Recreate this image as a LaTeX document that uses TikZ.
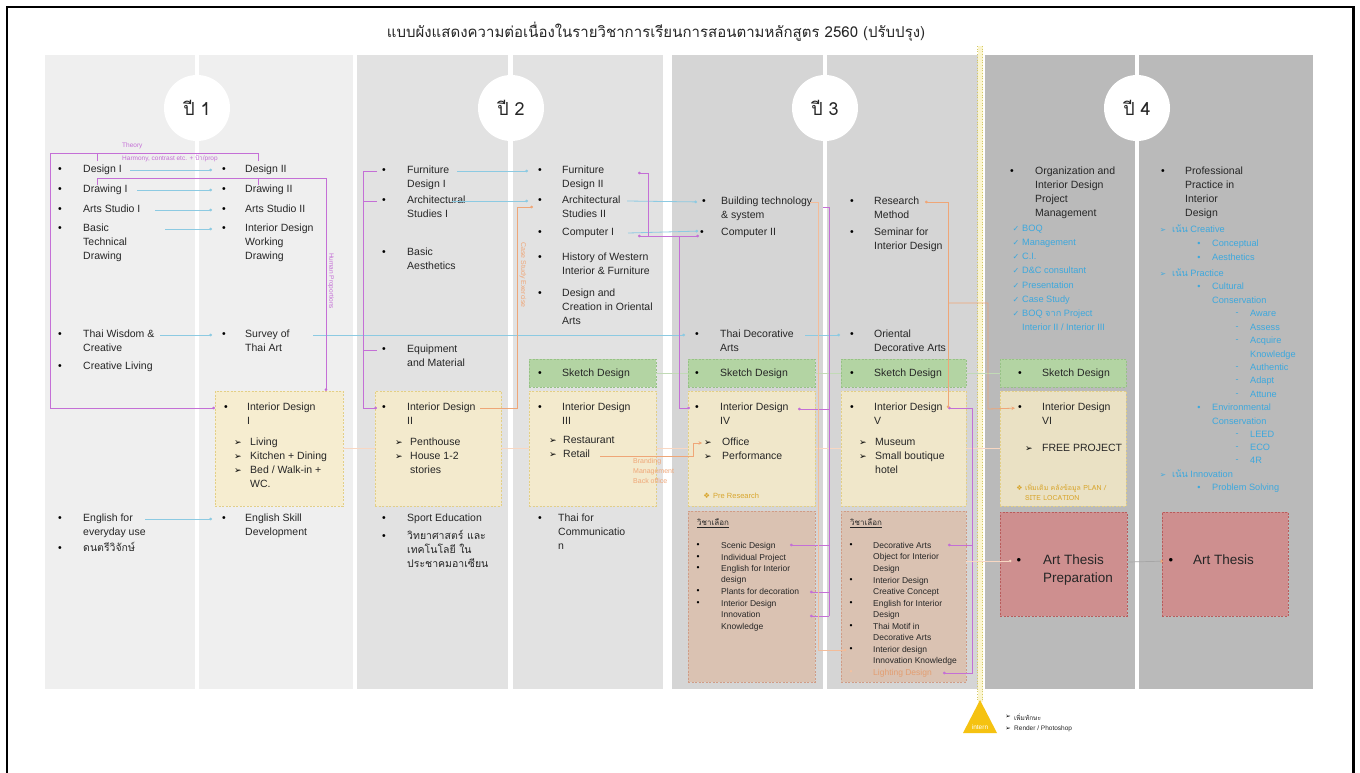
\documentclass[tikz,border=0pt]{standalone}
\usepackage{fontspec}
\setmainfont{Liberation Sans}
\newfontfamily\thaifont[Script=Thai]{Loma}
\newfontfamily\symfont{DejaVu Sans}
\usetikzlibrary{arrows.meta,calc}
\definecolor{pone}{HTML}{EFEFEF}
\definecolor{ptwo}{HTML}{E2E2E2}
\definecolor{pthree}{HTML}{D5D5D5}
\definecolor{pfour}{HTML}{BABABA}
\definecolor{cream}{HTML}{F8EDC8}
\definecolor{creamline}{HTML}{E3CF86}
\definecolor{sketch}{HTML}{B3D4A3}
\definecolor{sketchline}{HTML}{97C286}
\definecolor{elect}{HTML}{DAC2B2}
\definecolor{electline}{HTML}{D09C86}
\definecolor{thesis}{HTML}{CE8F8F}
\definecolor{thesisline}{HTML}{B95C5C}
\definecolor{lblue}{HTML}{8CCAE2}
\definecolor{purp}{HTML}{C46FD6}
\definecolor{oran}{HTML}{EFA677}
\definecolor{tblue}{HTML}{3DA8DD}
\definecolor{gold}{HTML}{D8A52C}
\definecolor{txtc}{HTML}{262626}
\definecolor{tri}{HTML}{F5C211}
\definecolor{ylight}{HTML}{FBF5CF}
\definecolor{ydot}{HTML}{D3C865}
\newcommand\thx[1]{{\thaifont #1}}
\newcommand\chk{\llap{{\symfont\fontsize{8}{8}\selectfont ✓}\hspace{3pt}}}
\newcommand\itm[6][]{\node[bul] (b#2) at (#3,#5) {\textbullet};\node[txt,#1] (t#2) at (#4,#5) {\strut #6};}
\newcommand\sitm[6][]{\node[sbul] (b#2) at (#3,#5) {\textbullet};\node[stxt,#1] (t#2) at (#4,#5) {\strut #6};}
\newcommand\aitm[5]{\node[abul] (b#1) at (#2,#4) {➢};\node[txt] (t#1) at (#3,#4) {\strut #5};}
\newcommand\litm[6]{\node[lbul] (b#1) at (#2,#4) {#5};\node[btxt] (t#1) at (#3,#4) {\strut #6};}
\tikzset{
 bul/.style={inner sep=0pt, font=\fontsize{10.5}{14}\selectfont, text=black},
 sbul/.style={inner sep=0pt, font=\fontsize{8.5}{11.5}\selectfont, text=black},
 abul/.style={inner sep=0pt, font=\symfont\fontsize{9}{10}\selectfont, text=black},
 lbul/.style={inner sep=0pt, font=\fontsize{9}{10}\selectfont, text=tblue},
 txt/.style={inner sep=0pt, anchor=north west, yshift=7.1pt, align=left, text=txtc, font=\fontsize{10.5}{14}\selectfont},
 thai/.style={font=\thaifont\fontsize{10.5}{14}\selectfont},
 stxt/.style={inner sep=0pt, anchor=north west, yshift=5.85pt, align=left, text=txtc, font=\fontsize{8.5}{11.5}\selectfont},
 btxt/.style={inner sep=0pt, anchor=north west, yshift=7.05pt, align=left, text=tblue, font=\fontsize{9.2}{13.5}\selectfont},
 ttxt/.style={inner sep=0pt, anchor=north west, yshift=9.1pt, align=left, text=txtc, font=\fontsize{13.5}{18}\selectfont},
 gtxt/.style={inner sep=0pt, anchor=north west, yshift=5.2pt, align=left, text=gold, font=\thaifont\fontsize{7}{10}\selectfont},
 hdr/.style={inner sep=0pt, anchor=west, text=txtc, font=\thaifont\fontsize{8}{10}\selectfont},
 plabel/.style={inner sep=0pt, text=purp, font=\fontsize{6.5}{8}\selectfont},
 olabel/.style={inner sep=0pt, text=oran, font=\fontsize{7}{10}\selectfont},
 anybox/.style={anchor=north west, inner sep=0pt, outer sep=0pt, line width=0.6pt, dash pattern=on 2pt off 1.5pt},
 ybox/.style={anybox, draw=creamline, fill=cream, fill opacity=0.78},
 gbox/.style={anybox, draw=sketchline, fill=sketch},
 ebox/.style={anybox, draw=electline, fill=elect},
 rbox/.style={anybox, draw=thesisline, fill=thesis},
 yearc/.style={circle, fill=white, minimum size=66pt, inner sep=0pt, font=\thaifont\fontsize{18}{20}\selectfont, text=txtc},
 dottip/.style={-{Circle[length=2.6pt]}},
 bline/.style={draw=lblue, line width=0.8pt, dottip, shorten >=10pt},
 pline/.style={draw=purp, line width=0.8pt},
 oline/.style={draw=oran, line width=0.8pt},
 yfaint/.style={draw=oran!45, line width=0.6pt},
 gfaint/.style={draw=sketchline!60, line width=0.6pt}
}
\begin{document}
\begin{tikzpicture}[x=1pt,y=-1pt]
\useasboundingbox (0,0) rectangle (1360,772);
\fill[white] (0,0) rectangle (1360,772);
\draw[line width=2.4pt] (7,780) -- (7,7) -- (1353.5,7) -- (1353.5,780);
\node[font=\thaifont\fontsize{15}{18}\selectfont, text=txtc] (title) at (656,32) {แบบผังแสดงความต่อเนื่องในรายวิชาการเรียนการสอนตามหลักสูตร 2560 (ปรับปรุง)};
% panels
\fill[pone] (45,55) rectangle (195,689);
\fill[pone] (199,55) rectangle (353,689);
\fill[ptwo] (357,55) rectangle (508,689);
\fill[ptwo] (513,55) rectangle (663,689);
\fill[pthree] (672,55) rectangle (823,689);
\fill[pthree] (827,55) rectangle (978,689);
\fill[pfour] (985,55) rectangle (1135,689);
\fill[pfour] (1139,55) rectangle (1313,689);
% year circles
\node[yearc] (yr1) at (197,108) {ปี 1};
\node[yearc] (yr2) at (511,108) {ปี 2};
\node[yearc] (yr3) at (825,108) {ปี 3};
\node[yearc] (yr4) at (1137,108) {ปี 4};
% intern line
\draw[line width=5pt, ylight] (980,46) -- (980,702);
\draw[dotted, ydot, line width=0.7pt] (977.6,46) -- (977.6,702);
\draw[dotted, ydot, line width=0.7pt] (982.4,46) -- (982.4,702);
\fill[tri] (980,700) -- (997,733) -- (963,733) -- cycle;
\node[inner sep=0pt, text=white, font=\fontsize{6.5}{8}\selectfont] (intern) at (980,727) {intern};
\node[abul, font=\symfont\fontsize{6.5}{8}\selectfont] (lg1b) at (1008,717) {➢};
\node[inner sep=0pt, anchor=west, font=\thaifont\fontsize{6.5}{8}\selectfont, text=txtc] (lg1) at (1014,717) {เพิ่มทักษะ};
\node[abul, font=\symfont\fontsize{6.5}{8}\selectfont] (lg2b) at (1008,729) {➢};
\node[inner sep=0pt, anchor=west, font=\fontsize{6.5}{8}\selectfont, text=txtc] (lg2) at (1014,729) {Render / Photoshop};
% boxes
\node[ybox, minimum width=128pt, minimum height=115pt] (box1) at (215,391) {};
\node[ybox, minimum width=126pt, minimum height=115pt] (box2) at (375,391) {};
\node[ybox, minimum width=127pt, minimum height=115pt] (box3) at (529,391) {};
\node[ybox, minimum width=127pt, minimum height=115pt] (box4) at (688,391) {};
\node[ybox, minimum width=125pt, minimum height=115pt] (box5) at (841,391) {};
\node[ybox, minimum width=126pt, minimum height=115pt] (box6) at (1000,391) {};
\node[gbox, minimum width=127pt, minimum height=28pt] (sk2) at (529,359) {};
\node[gbox, minimum width=127pt, minimum height=28pt] (sk3a) at (688,359) {};
\node[gbox, minimum width=125pt, minimum height=28pt] (sk3b) at (841,359) {};
\node[gbox, minimum width=126pt, minimum height=28pt] (sk4) at (1000,359) {};
\node[ebox, minimum width=127pt, minimum height=171pt] (el3a) at (688,511) {};
\node[ebox, minimum width=125pt, minimum height=171pt] (el3b) at (841,511) {};
\node[rbox, minimum width=127pt, minimum height=104pt] (th1) at (1000,512) {};
\node[rbox, minimum width=126pt, minimum height=104pt] (th2) at (1162,512) {};
% faint box links
\draw[yfaint] (box1.east) -- (box2.west);
\draw[yfaint] (box2.east) -- (box3.west);
\draw[yfaint] (box3.east) -- (box4.west);
\draw[yfaint] (box4.east) -- (box5.west);
\draw[yfaint] (box5.east) -- (box6.west);
\draw[gfaint] (sk2.east) -- (sk3a.west);
\draw[gfaint] (sk3a.east) -- (sk3b.west);
\draw[gfaint] (sk3b.east) -- (sk4.west);
% ---------- year 1
\itm{1a1}{60}{83}{170}{Design I}
\itm{1a2}{60}{83}{190}{Drawing I}
\itm{1a3}{60}{83}{210}{Arts Studio I}
\itm{1a4}{60}{83}{229}{Basic\\Technical\\Drawing}
\itm{1a5}{60}{83}{335}{Thai Wisdom \&\\Creative}
\itm{1a6}{60}{83}{367}{Creative Living}
\itm{1a7}{60}{83}{519}{English for\\everyday use}
\itm[thai]{1a8}{60}{83}{549}{ดนตรีวิจักษ์}
\itm{1b1}{224}{245}{170}{Design II}
\itm{1b2}{224}{245}{190}{Drawing II}
\itm{1b3}{224}{245}{210}{Arts Studio II}
\itm{1b4}{224}{245}{229}{Interior Design\\Working\\Drawing}
\itm{1b5}{224}{245}{335}{Survey of\\Thai Art}
\itm{1b6}{224}{245}{519}{English Skill\\Development}
\itm{id1}{226}{247}{408}{Interior Design\\I}
\aitm{id1a}{238}{250}{443}{Living}
\aitm{id1b}{238}{250}{457}{Kitchen + Dining}
\aitm{id1c}{238}{250}{471}{Bed / Walk-in +\\WC.}
% ---------- year 2
\itm{2a1}{384}{407}{171}{Furniture\\Design I}
\itm{2a2}{384}{407}{201}{Architectural\\Studies I}
\itm{2a3}{384}{407}{253}{Basic\\Aesthetics}
\itm{2a4}{384}{407}{350}{Equipment\\and Material}
\itm{id2}{384}{407}{408}{Interior Design\\II}
\aitm{id2a}{399}{410}{443}{Penthouse}
\aitm{id2b}{399}{410}{457}{House 1-2\\stories}
\itm{2a5}{384}{407}{519}{Sport Education}
\itm[thai]{2a6}{384}{407}{537}{วิทยาศาสตร์ และ\\เทคโนโลยี ใน\\ประชาคมอาเซียน}
\itm{2b1}{540}{562}{171}{Furniture\\Design II}
\itm{2b2}{540}{562}{201}{Architectural\\Studies II}
\itm{2b3}{540}{562}{233}{Computer I}
\itm{2b4}{540}{562}{258}{History of Western\\Interior \& Furniture}
\itm{2b5}{540}{562}{294}{Design and\\Creation in Oriental\\Arts}
\itm{sk2t}{540}{562}{374}{Sketch Design}
\itm{id3}{540}{562}{408}{Interior Design\\III}
\aitm{id3a}{553}{563}{441}{Restaurant}
\aitm{id3b}{553}{563}{455}{Retail}
\itm{2b6}{540}{558}{519}{Thai for\\Communicatio\\n}
% ---------- year 3
\itm{3a1}{704}{721}{202}{Building technology\\\& system}
\itm{3a2}{702}{721}{233}{Computer II}
\itm{3a3}{697}{720}{335}{Thai Decorative\\Arts}
\itm{sk3at}{697}{720}{374}{Sketch Design}
\itm{id4}{697}{720}{408}{Interior Design\\IV}
\aitm{id4a}{708}{722}{443}{Office}
\aitm{id4b}{708}{722}{457}{Performance}
\node[gtxt, font=\fontsize{7.5}{10}\selectfont, yshift=0.4pt] (pre) at (713,497) {\strut\llap{{\symfont ❖}\hspace{3pt}}Pre Research};
\node[hdr] (h3a) at (697,523) {\underline{วิชาเลือก}};
\sitm{e1}{698}{721}{546}{Scenic Design}
\sitm{e2}{698}{721}{558}{Individual Project}
\sitm{e3}{698}{721}{569}{English for Interior\\design}
\sitm{e4}{698}{721}{592}{Plants for decoration}
\sitm{e5}{698}{721}{604}{Interior Design\\Innovation\\Knowledge}
\itm{3b1}{852}{874}{202}{Research\\Method}
\itm{3b2}{852}{874}{233}{Seminar for\\Interior Design}
\itm{3b3}{852}{874}{335}{Oriental\\Decorative Arts}
\itm{sk3bt}{852}{874}{374}{Sketch Design}
\itm{id5}{852}{874}{408}{Interior Design\\V}
\aitm{id5a}{863}{875}{443}{Museum}
\aitm{id5b}{863}{875}{457}{Small boutique\\hotel}
\node[hdr] (h3b) at (850,523) {\underline{วิชาเลือก}};
\sitm{f1}{851}{873}{546}{Decorative Arts\\Object for Interior\\Design}
\sitm{f2}{851}{873}{581}{Interior Design\\Creative Concept}
\sitm{f3}{851}{873}{604}{English for Interior\\Design}
\sitm{f4}{851}{873}{627}{Thai Motif in\\Decorative Arts}
\sitm{f5}{851}{873}{650}{Interior design\\Innovation Knowledge}
\node[sbul, text=oran!70] (bf6) at (851,673) {\textbullet};
\node[stxt, text=oran!95!black] (tf6) at (873,673) {\strut Lighting Design};
% ---------- year 4
\itm{4a1}{1012}{1035}{172}{Organization and\\Interior Design\\Project\\Management}
\node[btxt, font=\fontsize{9.2}{14.1}\selectfont, yshift=0.4pt] (chk) at (1022,229) {\strut\chk BOQ\\\chk Management\\\chk C.I.\\\chk D\&C consultant\\\chk Presentation\\\chk Case Study\\\chk BOQ \thx{จาก} Project\\Interior II / Interior III};
\itm{sk4t}{1020}{1042}{374}{Sketch Design}
\itm{id6}{1020}{1042}{408}{Interior Design\\VI}
\aitm{id6a}{1029}{1042}{449}{FREE PROJECT}
\node[gtxt] (note6) at (1025,488) {\strut\llap{{\symfont ❖}\hspace{2.5pt}}เพิ่มเติม คลังข้อมูล PLAN /\\SITE LOCATION};
\node[bul, font=\fontsize{13}{18}\selectfont] (bth1) at (1019,561) {\textbullet};
\node[ttxt] (tth1) at (1043,561) {\strut Art Thesis\\Preparation};
\itm{4b1}{1163}{1185}{172}{Professional\\Practice in\\Interior\\Design}
\litm{c1}{1163}{1172}{230}{\symfont\fontsize{7.5}{8}\selectfont ➢}{\thx{เน้น} Creative}
\litm{c2}{1199}{1212}{244}{\textbullet}{Conceptual}
\litm{c3}{1199}{1212}{258}{\textbullet}{Aesthetics}
\litm{c4}{1163}{1172}{274}{\symfont\fontsize{7.5}{8}\selectfont ➢}{\thx{เน้น} Practice}
\litm{c5}{1199}{1212}{287}{\textbullet}{Cultural\\Conservation}
\litm{c6}{1237}{1250}{314}{-}{Aware}
\litm{c7}{1237}{1250}{328}{-}{Assess}
\litm{c8}{1237}{1250}{341}{-}{Acquire\\Knowledge}
\litm{c9}{1237}{1250}{368}{-}{Authentic}
\litm{c10}{1237}{1250}{381}{-}{Adapt}
\litm{c11}{1237}{1250}{395}{-}{Attune}
\litm{c12}{1199}{1212}{408}{\textbullet}{Environmental\\Conservation}
\litm{c13}{1237}{1250}{435}{-}{LEED}
\litm{c14}{1237}{1250}{448}{-}{ECO}
\litm{c15}{1237}{1250}{461}{-}{4R}
\litm{c16}{1163}{1172}{475}{\symfont\fontsize{7.5}{8}\selectfont ➢}{\thx{เน้น} Innovation}
\litm{c17}{1199}{1212}{488}{\textbullet}{Problem Solving}
\node[bul, font=\fontsize{13}{18}\selectfont] (bth2) at (1171,561) {\textbullet};
\node[ttxt] (tth2) at (1193,561) {\strut Art Thesis};
% ---------- blue connectors
\draw[bline] ($(b1a1)+(70,0)$) -- (b1b1);
\draw[bline] ($(b1a2)+(77,0)$) -- (b1b2);
\draw[bline] ($(b1a3)+(95,0)$) -- (b1b3);
\draw[bline] ($(b1a4)+(105,0)$) -- (b1b4);
\draw[bline] ($(b1a5)+(100,0)$) -- (b1b5);
\draw[bline] ($(b1a7)+(85,0)$) -- (b1b6);
\draw[bline] ($(b1b5)+(89,0)$) -- (b3a3);
\draw[bline] ($(b2a1)+(73,0)$) -- (b2b1);
\draw[bline] ($(b2a2)+(68,0)$) -- (b2b2);
\draw[bline, shorten >=5pt] ($(b2b2)+(87,0)$) -- (b3a1);
\draw[bline, shorten >=4pt] ($(b2b3)+(88,0)$) -- ($(b3a2)+(0,-2)$);
\draw[bline] ($(b3a3)+(108,0)$) -- (b3b3);
% ---------- purple connectors
\node[plabel, anchor=west] (theory) at (122,146) {Theory};
\node[plabel, anchor=west] (harm) at (122,158) {Harmony, contrast etc. + \thx{ป้า}/prop};
\node[plabel, rotate=-90] (hprop) at (331,281) {Human Proportions};
\draw[pline] (97,161) -- (97,153) -- (258,153) -- (258,161);
\draw[pline, dottip, shorten >=9pt] (97,153) -- (50,153) -- (50,408) -- (bid1);
\draw[pline] (97,185) -- (97,178) -- (258,178) -- (258,185);
\draw[pline, dottip] (258,178) -- (326,178) -- ($(box1.north east)+(-17,0)$);
\draw[pline] ($(b2a1)+(-7,0)$) -- (363,171) -- (363,408);
\draw[pline] (363,201) -- ($(b2a2)+(-7,0)$);
\draw[pline] (363,350) -- ($(b2a4)+(-7,0)$);
\draw[pline, dottip, shorten >=5pt] (363,408) -- (bid2);
\draw[pline, {Circle[length=2.6pt]}-{Circle[length=2.6pt]}] (638,173) -- (648,173) -- (648,236) -- (638,236);
\draw[pline, dottip, shorten >=3pt] (648,236) -- ($(b3a2)+(0,3)$);
\draw[pline, dottip, shorten >=5pt] (679,236) -- (679,408) -- (bid4);
\draw[pline] (823,207) -- (829,207) -- (829,616);
\draw[pline, {Circle[length=2.6pt]}-] (798,409) -- (829,409);
\draw[pline, {Circle[length=2.6pt]}-] (790,545) -- (829,545);
\draw[pline, {Circle[length=2.6pt]}-] (810,592) -- (829,592);
\draw[pline, {Circle[length=2.6pt]}-] (810,616) -- (829,616);
\draw[pline, {Circle[length=2.6pt]}-{Circle[length=2.6pt]}] (948,408) -- (972,408) -- (972,673) -- (943,673);
\draw[pline, dottip] (972,545) -- (948,545);
% ---------- orange connectors
\node[olabel, rotate=-90] (cse) at (523,275) {Case Study Exercise};
\draw[oline, dottip] (480,408) -- (517,408) -- (517,207) -- (533,207);
\draw[oline, -{Stealth[length=3.5pt,width=3.5pt]}, shorten >=2pt] ($(bid3b)+(47,1)$) -- (693,456) -- (693,443) -- (bid4a);
\node[olabel, anchor=north west, align=left] (brand) at (633,458) {Branding\\Management\\Back office};
\draw[oline, dottip, shorten >=3pt, draw=oran!75] (810,202) -- (818,202) -- (818,650) -- (bf5);
\draw[oline, {Circle[length=2.6pt]}-{Circle[length=2.6pt]}] (925,202) -- (948,202) -- (948,408);
\draw[oline, -{Stealth[length=3.5pt,width=3.5pt]}, shorten >=3pt] (948,303) -- (988,303) -- (988,409) -- (bid6);
\draw[yfaint, dottip, shorten >=5pt] (el3b.east |- bth1) -- (bth1);
\draw[draw=gray!70, line width=0.7pt, -{Stealth[length=3.5pt,width=3.5pt,color=oran]}, shorten >=5pt] ($(th1.east |- bth1)+(1,1)$) -- (bth2);
\end{tikzpicture}
\end{document}
